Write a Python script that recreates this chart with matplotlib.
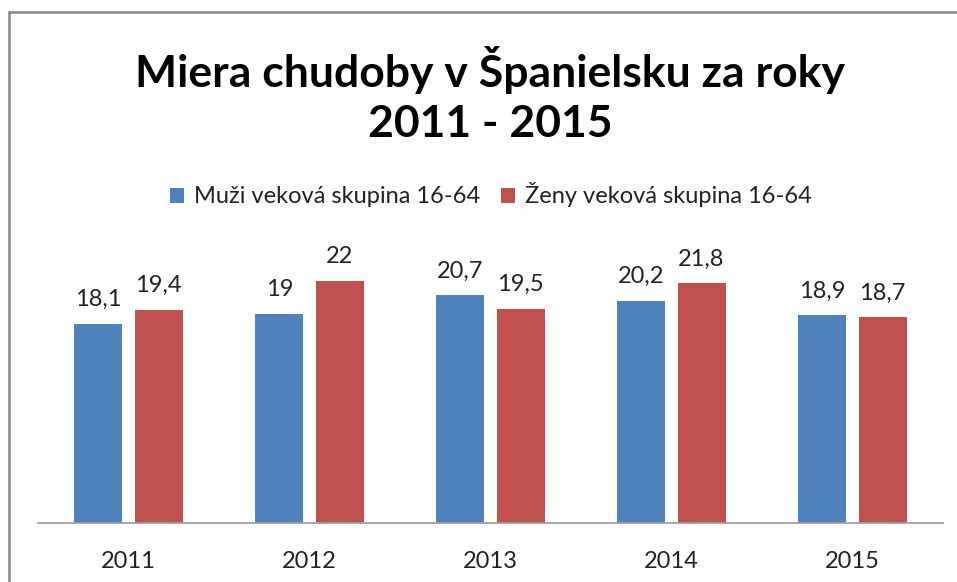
import matplotlib.pyplot as plt
import numpy as np
from matplotlib.patches import Rectangle

# data
years = ['2011', '2012', '2013', '2014', '2015']
muzi = [18.1, 19, 20.7, 20.2, 18.9]
zeny = [19.4, 22, 19.5, 21.8, 18.7]
muzi_label = 'Muži veková skupina 16-64'
zeny_label = 'Ženy veková skupina 16-64'
title = 'Miera chudoby v Španielsku za roky\n2011 - 2015'

plt.rcParams['font.family'] = ['Lato', 'DejaVu Sans']

fig = plt.figure(figsize=(9.57, 5.82), dpi=100)
ax = fig.add_axes([38/957, 59/582, 905/957, 275/582])

x = np.arange(len(years))
w = 0.265
off = 0.166
ax.bar(x - off, muzi, w, color='#4F81BD', label=muzi_label)
ax.bar(x + off, zeny, w, color='#C0504D', label=zeny_label)

# data labels with comma decimal
def fmt(v):
  return ('%g' % v).replace('.', ',')

for i in range(len(years)):
  ax.text(x[i] - off, muzi[i] + 1.6, fmt(muzi[i]), ha='center', va='baseline', fontsize=17, color='#222222')
  ax.text(x[i] + off, zeny[i] + 1.6, fmt(zeny[i]), ha='center', va='baseline', fontsize=17, color='#222222')

ax.set_xlim(-0.5, len(years) - 0.5)
ax.set_ylim(0, 25)
ax.set_xticks(x)
ax.set_xticklabels(years, fontsize=17, color='#222222')
ax.tick_params(axis='x', length=0, pad=20)
ax.set_yticks([])
for s in ['top', 'right', 'left']:
  ax.spines[s].set_visible(False)
ax.spines['bottom'].set_color('#A0A0A0')
ax.spines['bottom'].set_linewidth(1.3)

fig.text(490/957, 1 - 95/582, title, ha='center', va='center', fontsize=32,
         fontweight='bold', linespacing=1.32)

leg = fig.legend(loc='center', bbox_to_anchor=(491/957, 1 - 195/582), ncol=2, frameon=False,
                 fontsize=17, handlelength=0.6, handleheight=0.6, handletextpad=0.4,
                 columnspacing=0.9)
for t in leg.get_texts():
  t.set_color('#222222')

# chart border (cropped on the right and bottom)
fig.patches.append(Rectangle((9/957, -0.1), 1.1, 1 - 12/582 + 0.1, transform=fig.transFigure,
                             fill=False, edgecolor='#878787', linewidth=1.8))

fig.savefig('out.png', dpi=100)
